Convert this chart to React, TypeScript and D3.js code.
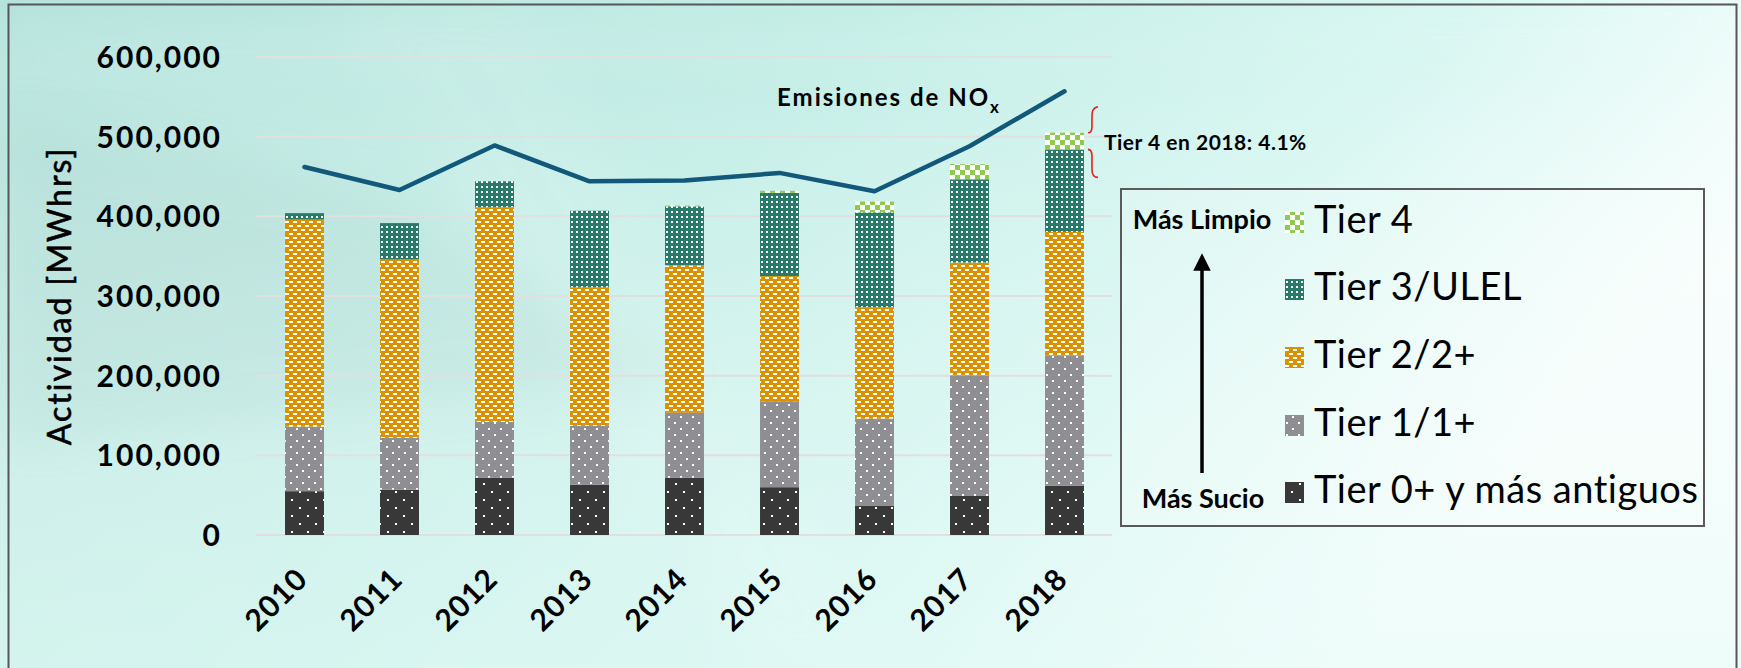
import React from "react";
import * as d3 from "d3";

const years = ["2010", "2011", "2012", "2013", "2014", "2015", "2016", "2017", "2018"];
const tier0 = [55000, 57000, 72000, 63000, 72000, 60000, 37000, 49000, 62000];
const tier1 = [81000, 65000, 70000, 74000, 81500, 108000, 109000, 151000, 163000];
const tier2 = [260000, 224000, 269500, 174000, 185000, 157000, 140000, 142000, 155500];
const tier3 = [8000, 45500, 32500, 96000, 74000, 104500, 119000, 104500, 103500];
const tier4 = [0, 0, 0, 0, 1000, 2500, 13500, 19000, 21000];
const noxLine = [462000, 433000, 489000, 444000, 445000, 454500, 431500, 488000, 557000];
const yTicks = [0, 100000, 200000, 300000, 400000, 500000, 600000];

const seriesKeys = ["t0", "t1", "t2", "t3", "t4"];
const seriesLabels = ["Tier 0+ y más antiguos", "Tier 1/1+", "Tier 2/2+", "Tier 3/ULEL", "Tier 4"];

const W = 1741;
const H = 668;
const FONT = "Lato, 'Noto Sans', sans-serif";

export default function App() {
  const rows = years.map((yr, i) => ({
    year: yr,
    t0: tier0[i],
    t1: tier1[i],
    t2: tier2[i],
    t3: tier3[i],
    t4: tier4[i],
  }));
  const stacked = d3.stack().keys(seriesKeys)(rows as any);

  const x = d3
    .scaleBand()
    .domain(years)
    .range([257, 1112])
    .paddingInner(0.59)
    .paddingOuter(0.295);
  const y = d3.scaleLinear().domain([0, 600000]).range([535, 57]);
  const cx = (yr) => (x(yr) as number) + x.bandwidth() / 2;

  const line = d3
    .line<number>()
    .x((_, i) => cx(years[i]))
    .y((d) => y(d));

  // brace around Tier 4 of the last year
  const last = rows.length - 1;
  const top4 = y(tier0[last] + tier1[last] + tier2[last] + tier3[last] + tier4[last]);
  const bot4 = y(tier0[last] + tier1[last] + tier2[last] + tier3[last]);
  const bx = (x(years[last]) as number) + x.bandwidth() + 4;

  const legendX = 1285;
  const legendBase = [503, 436, 368, 300, 233];

  return (
    <div>
      <style>{"body{margin:0}"}</style>
      <svg width={W} height={H} style={{ display: "block" }}>
        <defs>
          <linearGradient id="bg" x1="0" y1="0" x2="1" y2="0.35">
            <stop offset="0" stopColor="#b5e3dc" />
            <stop offset="0.45" stopColor="#c2ede6" />
            <stop offset="0.75" stopColor="#d6f6f1" />
            <stop offset="0.92" stopColor="#eefcfa" />
            <stop offset="1" stopColor="#f8fefd" />
          </linearGradient>
          <linearGradient id="bgv" x1="0" y1="0" x2="0" y2="1">
            <stop offset="0" stopColor="#ffffff" stopOpacity="0" />
            <stop offset="1" stopColor="#e6fbf7" stopOpacity="0.55" />
          </linearGradient>
          <filter id="soft" x="-20%" y="-20%" width="140%" height="140%">
            <feGaussianBlur stdDeviation="25" />
          </filter>
          <pattern id="p0" width="16" height="16" patternUnits="userSpaceOnUse">
            <rect width="16" height="16" fill="#383838" />
            <rect x="3" y="3" width="2" height="2" fill="#fff" />
            <rect x="11" y="11" width="2" height="2" fill="#fff" />
          </pattern>
          <pattern id="p1" width="12" height="12" patternUnits="userSpaceOnUse">
            <rect width="12" height="12" fill="#8f8f93" />
            <rect x="2" y="2" width="2" height="2" fill="#fff" />
            <rect x="8" y="8" width="2" height="2" fill="#fff" />
          </pattern>
          <pattern id="p2" width="8" height="8" patternUnits="userSpaceOnUse">
            <rect width="8" height="8" fill="#dc9200" />
            <rect x="1" y="1" width="4" height="2" fill="#fff" />
            <rect x="5" y="5" width="4" height="2" fill="#fff" />
            <rect x="-3" y="5" width="4" height="2" fill="#fff" />
          </pattern>
          <pattern id="p3" width="5" height="5" patternUnits="userSpaceOnUse">
            <rect width="5" height="5" fill="#2a7a6b" />
            <rect x="1" y="1" width="2" height="2" fill="#fff" />
          </pattern>
          <pattern id="p4" width="10" height="10" patternUnits="userSpaceOnUse">
            <rect width="10" height="10" fill="#ffffff" />
            <rect x="0" y="0" width="5" height="5" fill="#8dcb4c" />
            <rect x="5" y="5" width="5" height="5" fill="#8dcb4c" />
          </pattern>
          <marker id="arrow" viewBox="0 0 10 10" refX="5" refY="5" markerWidth="5" markerHeight="5" orient="auto">
            <path d="M0,0 L10,5 L0,10 z" fill="#000" />
          </marker>
        </defs>

        {/* background */}
        <rect width={W} height={H} fill="url(#bg)" />
        <rect width={W} height={H} fill="url(#bgv)" />
        <polygon points="0,110 380,190 700,380 0,440" fill="#7fa8a2" opacity="0.1" filter="url(#soft)" />
        <polygon points="0,40 700,25 1741,0 1741,40 650,60 0,75" fill="#ffffff" opacity="0.12" filter="url(#soft)" />
        <polygon points="330,0 520,0 880,668 760,668" fill="#ffffff" opacity="0.08" filter="url(#soft)" />
        <rect x={8.5} y={4.5} width={1728} height={700} fill="none" stroke="#575757" strokeWidth={2} />

        {/* gridlines */}
        {yTicks.map((t) => (
          <line key={t} x1={256} x2={1112} y1={y(t)} y2={y(t)} stroke="#e2dfdf" strokeWidth={2} />
        ))}

        {/* y tick labels */}
        {yTicks.map((t) => (
          <text
            key={"l" + t}
            x={222}
            y={y(t) + 11}
            textAnchor="end"
            fontFamily={FONT}
            fontWeight={700}
            fontSize={30}
            letterSpacing={2}
            fill="#000"
          >
            {d3.format(",")(t)}
          </text>
        ))}

        <text
          transform={`translate(71,296) rotate(-90)`}
          textAnchor="middle"
          fontFamily={FONT}
          fontSize={32}
          letterSpacing={2}
          fill="#000"
          stroke="#000"
          strokeWidth={0.6}
        >
          Actividad [MWhrs]
        </text>

        {/* bars */}
        {stacked.map((s, si) => (
          <g key={s.key} fill={`url(#p${si})`}>
            {s.map((d, i) =>
              d[1] - d[0] > 0 ? (
                <rect
                  key={i}
                  x={x(years[i])}
                  width={x.bandwidth()}
                  y={y(d[1])}
                  height={y(d[0]) - y(d[1])}
                />
              ) : null
            )}
          </g>
        ))}

        {/* x labels */}
        {years.map((yr) => (
          <text
            key={yr}
            transform={`translate(${cx(yr) + 5},581) rotate(-45)`}
            textAnchor="end"
            fontFamily={FONT}
            fontWeight={700}
            fontSize={30}
            letterSpacing={1}
            fill="#000"
          >
            {yr}
          </text>
        ))}

        {/* NOx line */}
        <path
          d={line(noxLine) as string}
          fill="none"
          stroke="#11587a"
          strokeWidth={4.5}
          strokeLinejoin="round"
          strokeLinecap="round"
        />
        <text x={777} y={106} fontFamily={FONT} fontWeight={700} fontSize={24} letterSpacing={2} fill="#000">
          Emisiones de NO
          <tspan fontSize={17} dy={7}>
            x
          </tspan>
        </text>

        {/* brace */}
        <path
          d={`M${bx + 10},${top4 - 26} C${bx + 4},${top4 - 25} ${bx + 4},${top4 - 20} ${bx + 4},${top4 - 14} L${bx + 4},${top4 - 6} C${bx + 4},${top4 - 2} ${bx + 2},${top4} ${bx},${top4}`}
          fill="none"
          stroke="#e8201a"
          strokeWidth={1.6}
        />
        <path
          d={`M${bx},${bot4} C${bx + 2},${bot4} ${bx + 4},${bot4 + 2} ${bx + 4},${bot4 + 7} L${bx + 4},${bot4 + 20} C${bx + 4},${bot4 + 25} ${bx + 6},${bot4 + 28} ${bx + 10},${bot4 + 28}`}
          fill="none"
          stroke="#e8201a"
          strokeWidth={1.6}
        />
        <text x={1104} y={150} fontFamily={FONT} fontWeight={700} fontSize={21} letterSpacing={0.5} fill="#000">
          Tier 4 en 2018: 4.1%
        </text>

        {/* legend */}
        <rect x={1121} y={189} width={583} height={337} fill="#ffffff" fillOpacity={0.18} stroke="#5a5a5a" strokeWidth={2} />
        {seriesKeys.map((k, i) => (
          <g key={k}>
            <rect x={legendX} y={legendBase[i] - 21} width={19} height={21} fill={`url(#p${i})`} />
            <text x={1314} y={legendBase[i]} fontFamily={FONT} fontSize={38} letterSpacing={0.5} fill="#000">
              {seriesLabels[i]}
            </text>
          </g>
        ))}
        <text x={1202} y={229} textAnchor="middle" fontFamily={FONT} fontWeight={700} fontSize={27} fill="#000">
          Más Limpio
        </text>
        <text x={1203} y={508} textAnchor="middle" fontFamily={FONT} fontWeight={700} fontSize={27} fill="#000">
          Más Sucio
        </text>
        <line x1={1202} y1={473} x2={1202} y2={262} stroke="#000" strokeWidth={3.5} markerEnd="url(#arrow)" />
      </svg>
    </div>
  );
}
